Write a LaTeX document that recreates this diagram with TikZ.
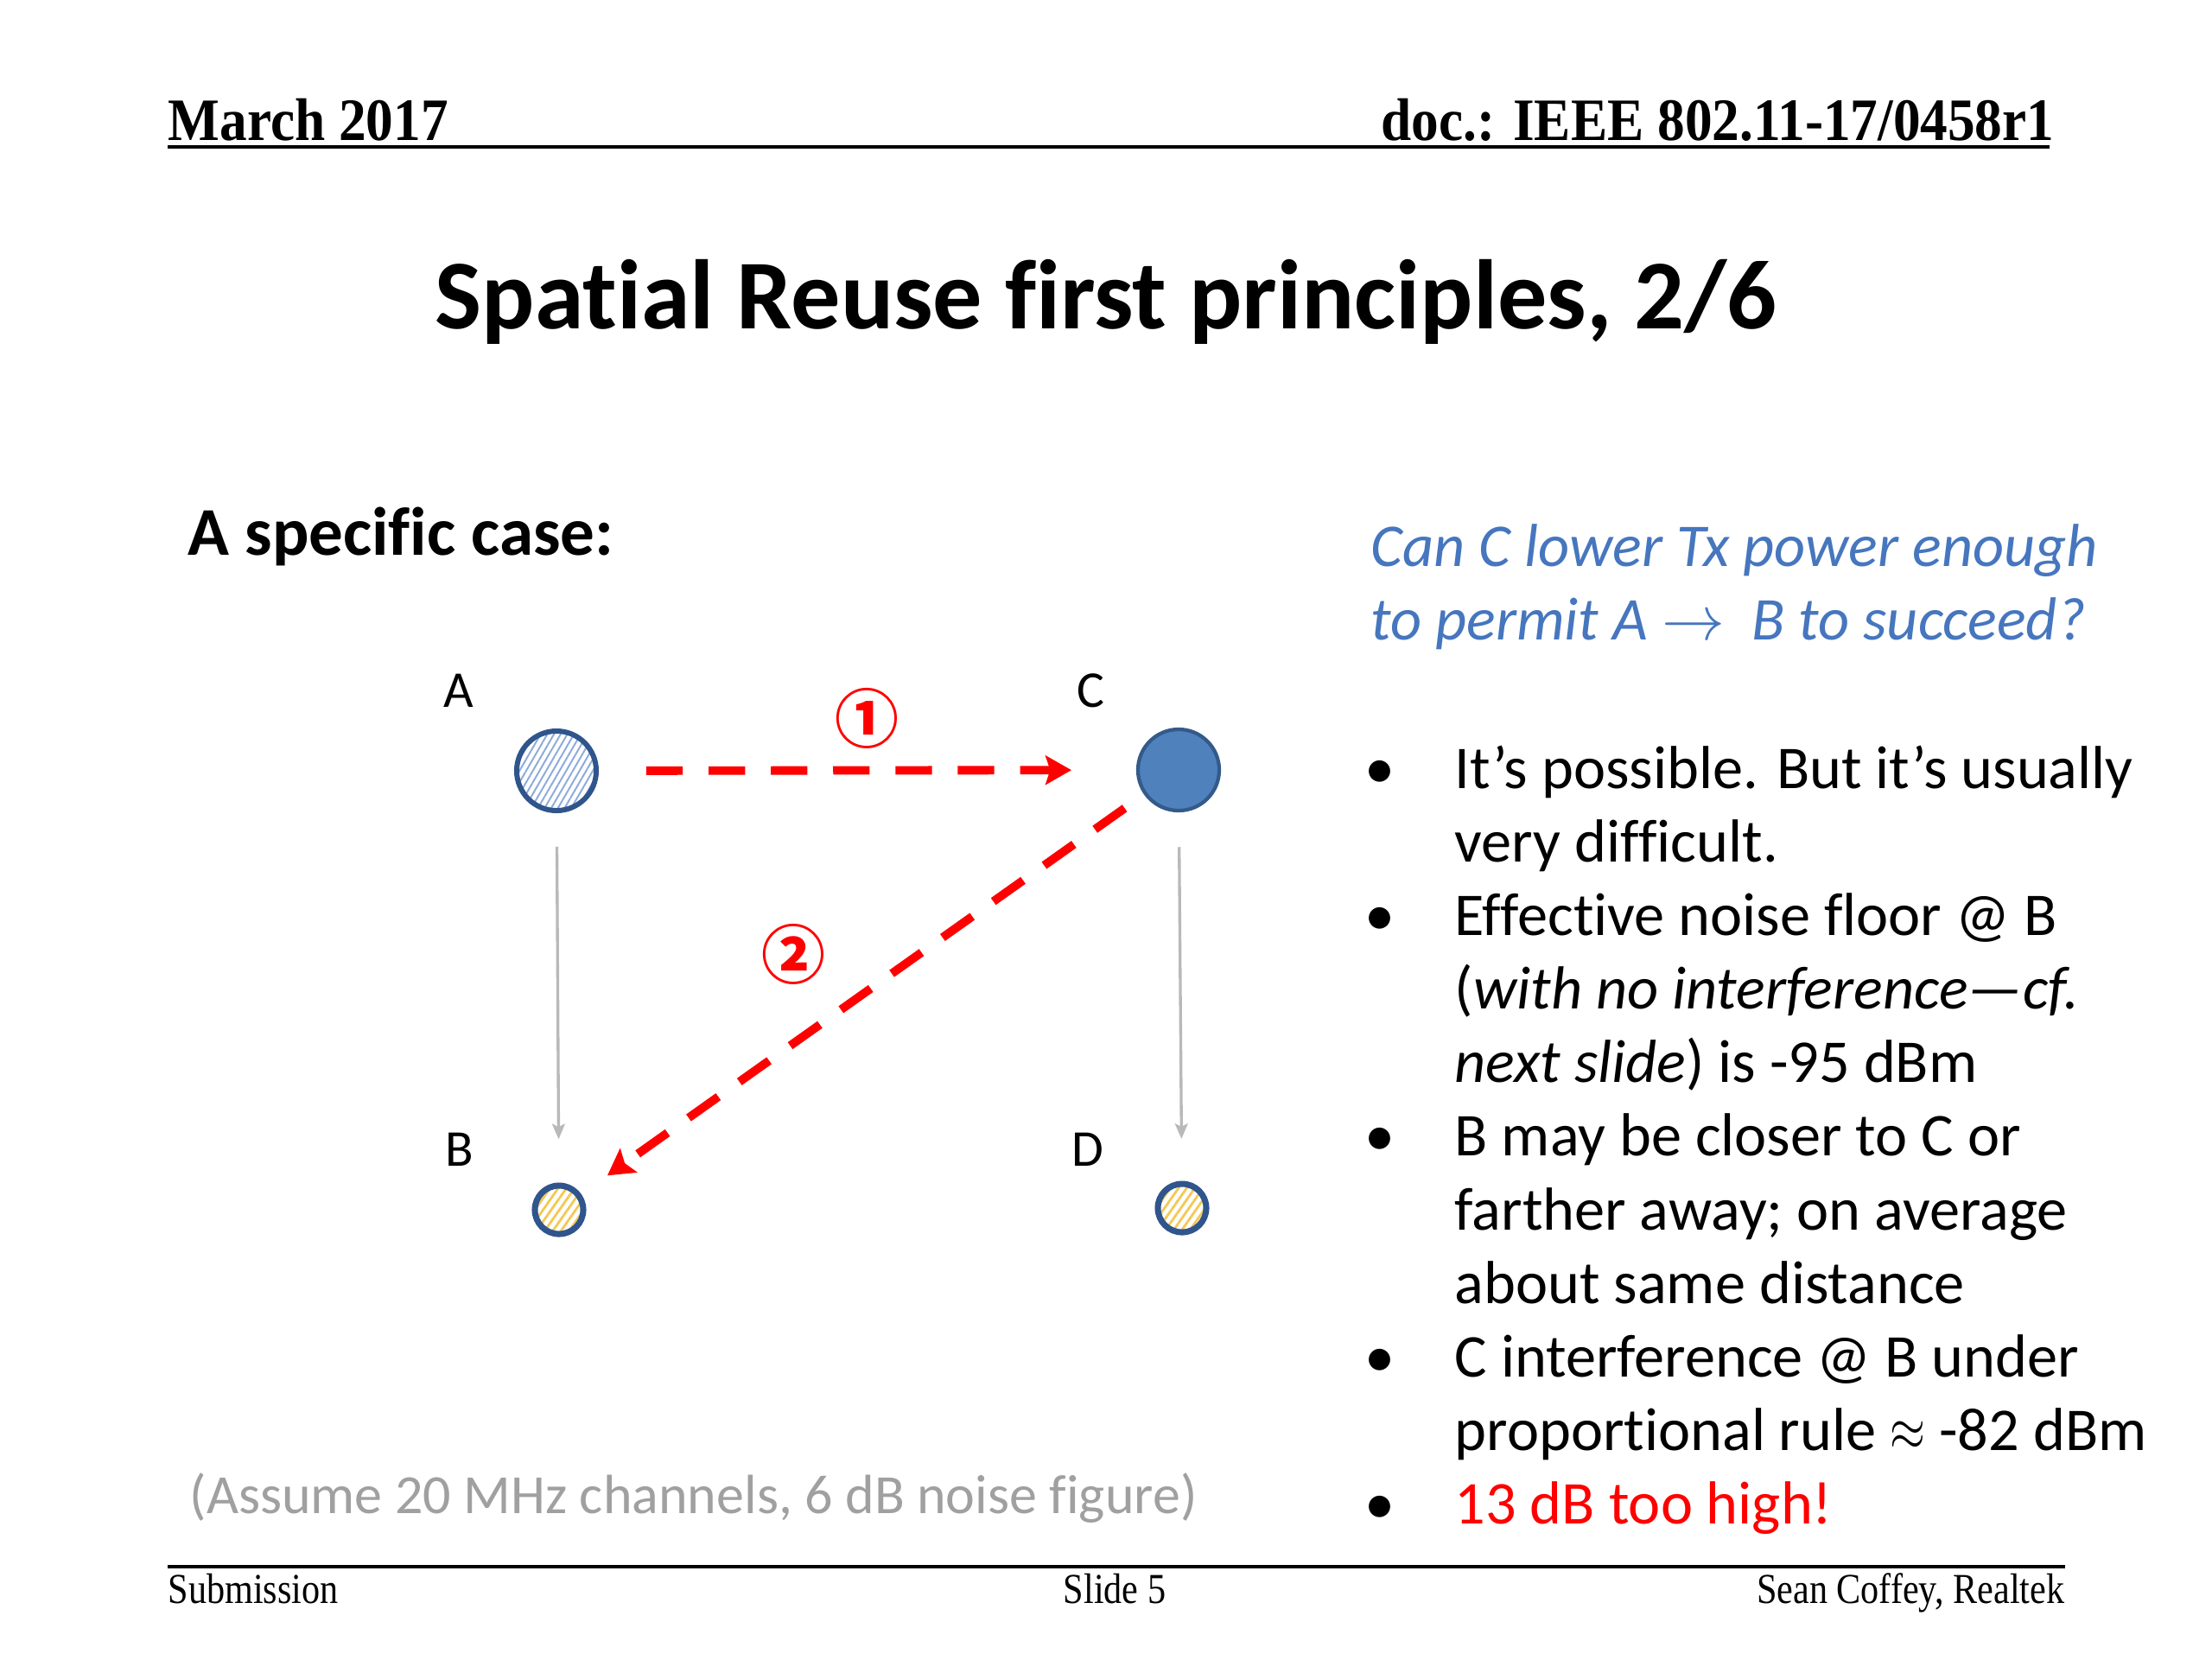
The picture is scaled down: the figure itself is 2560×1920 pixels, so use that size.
\documentclass[tikz,border=0pt]{standalone}
\usepackage{fontspec}
\setmainfont{Carlito}[Ligatures=NoCommon, RawFeature={-clig;-dlig}]
\newfontfamily\timesfont{Liberation Serif}
\newfontfamily\cjkfont{Noto Sans CJK JP}
\usetikzlibrary{arrows.meta,patterns.meta,calc}
\definecolor{ablue}{RGB}{47,85,140}
\definecolor{hatchblue}{RGB}{140,170,220}
\definecolor{hatchyellow}{RGB}{245,200,85}
\definecolor{cfill}{RGB}{79,129,189}
\definecolor{cborder}{RGB}{52,90,138}
\definecolor{qblue}{RGB}{70,118,190}
\definecolor{arrowgray}{RGB}{185,185,185}
\definecolor{notegray}{RGB}{160,160,160}
\definecolor{hotred}{RGB}{255,0,0}
\begin{document}
\begin{tikzpicture}[x=0.01cm,y=-0.01cm,
  hdr/.style={font=\timesfont\bfseries\fontsize{18}{20}\selectfont, inner sep=0},
  ftr/.style={font=\timesfont\fontsize{12}{14}\selectfont, inner sep=0},
  body/.style={font=\fontsize{20}{24}\selectfont, anchor=base west, inner sep=0},
  bul/.style={font=\fontsize{20}{24}\selectfont, anchor=base, inner sep=0},
  lbl/.style={font=\fontsize{17}{20}\selectfont, anchor=base, inner sep=0},
  num/.style={font=\cjkfont\bfseries\fontsize{21}{23}\selectfont, text=hotred, inner sep=0},
  sta/.style={circle, inner sep=0, minimum size=0.92cm, draw=ablue, line width=1.7pt,
              preaction={fill=white},
              pattern={Lines[angle=60,distance=1.9pt,line width=0.55pt]}, pattern color=hatchblue},
  stc/.style={circle, inner sep=0, minimum size=0.94cm, draw=cborder, line width=1.2pt, fill=cfill},
  stb/.style={circle, inner sep=0, minimum size=0.56cm, draw=ablue, line width=2pt,
              preaction={fill=white},
              pattern={Lines[angle=55,distance=2.2pt,line width=0.8pt]}, pattern color=hatchyellow},
  grayarrow/.style={draw=arrowgray, line width=0.95pt, -{Stealth[length=5pt,width=4.2pt,inset=1pt]}},
  redarrow/.style={draw=hotred, line width=2.8pt, dash pattern=on 12pt off 8.5pt,
                   -{Stealth[length=8.5pt,width=9.5pt,inset=1.5pt]}}
]
\useasboundingbox[fill=white] (0,0) rectangle (2560,1920);

% header
\node[hdr, anchor=base west] (hdate) at (194,162) {\scalebox{1}[1.1]{March 2017}};
\node[hdr, anchor=base east] (hdoc) at (2378,162) {\scalebox{1}[1.1]{doc.: IEEE 802.11-17/0458r1}};
\draw[line width=1.1pt] (194,170) -- (2372,170);

% title
\node[font=\bfseries\fontsize{32.5}{38}\selectfont, anchor=base, inner sep=0] (title) at (1280,380)
  {Spatial Reuse first principles, 2/6};

\node[font=\bfseries\fontsize{22.5}{27}\selectfont, anchor=base west, inner sep=0] (case) at (217,642)
  {A specific case:};

% question
\node[body, text=qblue] (q1) at (1586,655) {\itshape Can C lower Tx power enough};
\node[body, text=qblue] (q2) at (1586,740) {\itshape to permit A $\rightarrow$\ \ B to succeed?};

% bullets
\node[bul] (b1) at (1597,912) {•};
\node[bul] (b2) at (1597,1082) {•};
\node[bul] (b3) at (1597,1337) {•};
\node[bul] (b4) at (1597,1593) {•};
\node[bul] (b5) at (1597,1763) {•};

\node[body] (t1) at (1683,912) {It’s possible. But it’s usually};
\node[body] (t2) at (1683,997) {very difficult.};
\node[body] (t3) at (1683,1082) {Effective noise floor @ B};
\node[body] (t4) at (1683,1167) {(\textit{with no interference—cf.}};
\node[body] (t5) at (1683,1252) {\textit{next slide}) is -95 dBm};
\node[body] (t6) at (1683,1337) {B may be closer to C or};
\node[body] (t7) at (1683,1423) {farther away; on average};
\node[body] (t8) at (1683,1508) {about same distance};
\node[body] (t9) at (1683,1593) {C interference @ B under};
\node[body] (t10) at (1683,1678) {proportional rule \scalebox{0.72}[0.95]{$\approx$} -82 dBm};
\node[body, text=hotred] (t11) at (1683,1763) {13 dB too high!};

% note
\node[font=\fontsize{18.2}{22}\selectfont, text=notegray, anchor=base west, inner sep=0] (note) at (219,1751)
  {(Assume 20 MHz channels, 6 dB noise figure)};

% stations
\node[sta] (A) at (644,892) {};
\node[stc] (C) at (1364,891) {};
\node[stb] (B) at (647,1400) {};
\node[stb] (D) at (1368,1398) {};

\node[lbl] (lA) at (531,818) {A};
\node[lbl] (lC) at (1262,818) {C};
\node[lbl] (lB) at (532,1349) {B};
\node[lbl] (lD) at (1259,1349) {D};

% connectors
\draw[grayarrow] ($(A)!0.173!(B)$) -- ($(A)!0.839!(B)$);
\draw[grayarrow] ($(C)!0.176!(D)$) -- ($(C)!0.842!(D)$);
\draw[redarrow] ($(A)!0.1444!(C)$) -- ($(A)!0.8278!(C)$);
\draw[redarrow] ($(C)!0.087!(B)$) -- ($(C)!0.922!(B)$);

\node[num] (n1) at (1003,831) {①};
\node[num] (n2) at (918,1104) {②};

% footer
\draw[line width=1.1pt] (194,1813) -- (2390,1813);
\node[ftr, anchor=base west] (fsub) at (194,1855) {\scalebox{1}[1.17]{Submission}};
\node[ftr, anchor=base] (fslide) at (1290,1855) {\scalebox{1}[1.17]{Slide 5}};
\node[ftr, anchor=base east] (fauth) at (2390,1855) {\scalebox{1}[1.17]{Sean Coffey, Realtek}};
\end{tikzpicture}
\end{document}
